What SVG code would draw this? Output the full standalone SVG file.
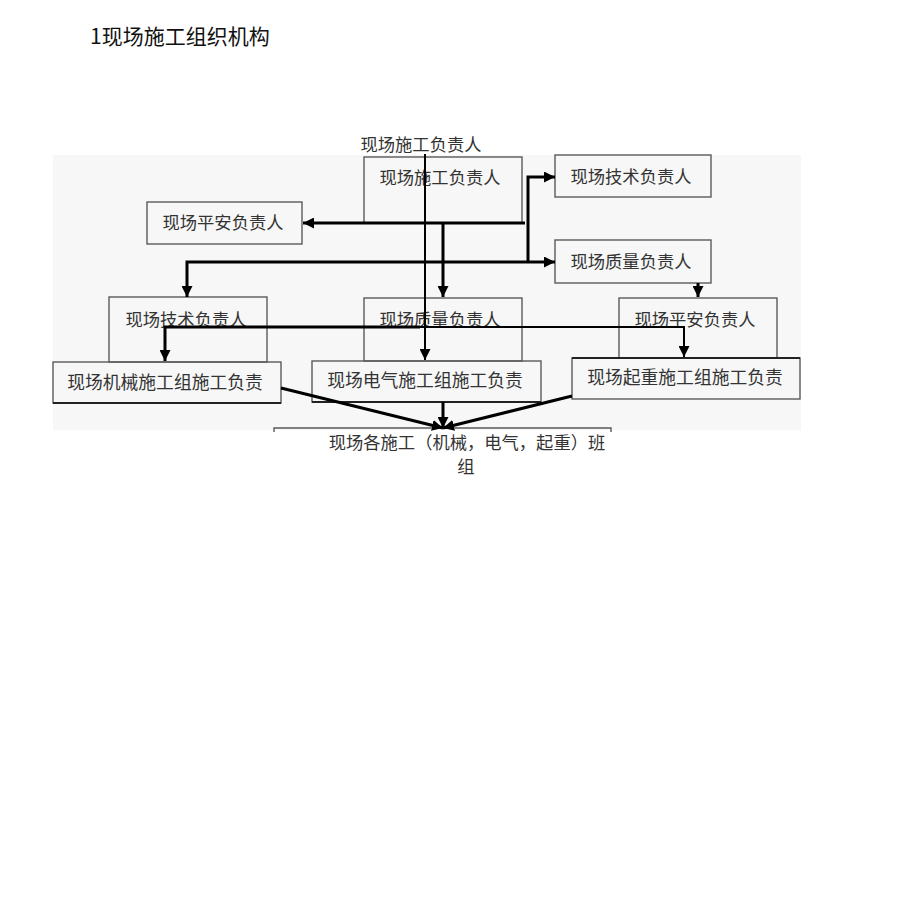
<svg xmlns="http://www.w3.org/2000/svg" width="920" height="920" viewBox="0 0 920 920">
<style>
.box{fill:none;stroke:#5a5a5a;stroke-width:1.4}
.t{font-family:"Noto Sans CJK SC","Noto Sans CJK JP",sans-serif;font-size:17.3px;fill:#333;text-anchor:middle}
.w{font-size:17.8px}
.c{fill:none;stroke:#000;stroke-width:3}
.c2{fill:none;stroke:#000;stroke-width:2}
</style>
<defs>
<marker id="ah" viewBox="0 0 10 10" refX="10" refY="5" markerWidth="11" markerHeight="11" markerUnits="userSpaceOnUse" orient="auto">
<path d="M0,0 L10,5 L0,10 z" fill="#000"/>
</marker>
</defs>
<rect x="0" y="0" width="920" height="920" fill="#fff"/>
<text x="90" y="44" style="font-family:'Noto Sans CJK SC',sans-serif;font-size:21px;fill:#111">1现场施工组织机构</text>
<rect x="53" y="155" width="748" height="275" fill="#f7f7f7"/>

<g id="lbl-top"><text class="t" x="421" y="151">现场施工负责人</text></g>
<g id="n-sg"><rect class="box" x="364" y="157" width="158" height="66"/><text class="t" x="440" y="184">现场施工负责人</text></g>
<g id="n-js1"><rect class="box" x="555" y="155" width="156" height="42"/><text class="t" x="631" y="183">现场技术负责人</text></g>
<g id="n-pa1"><rect class="box" x="147" y="202" width="155" height="42"/><text class="t" x="223" y="229">现场平安负责人</text></g>
<g id="n-zl1"><rect class="box" x="555" y="240" width="156" height="43"/><text class="t" x="631" y="268">现场质量负责人</text></g>
<g id="n-js2"><rect class="box" x="109" y="297" width="158" height="65"/><text class="t" x="186" y="326">现场技术负责人</text></g>
<g id="n-zl2"><rect class="box" x="364" y="298" width="158" height="63"/><text class="t" x="440" y="326">现场质量负责人</text></g>
<g id="n-pa2"><rect class="box" x="619" y="298" width="158" height="60"/><text class="t" x="695" y="326">现场平安负责人</text></g>
<g id="n-jx"><rect class="box" x="53" y="362" width="228" height="41"/><line x1="53" y1="403" x2="281" y2="403" stroke="#222" stroke-width="2"/><text class="t w" x="165" y="389">现场机械施工组施工负责</text></g>
<g id="n-dq"><rect class="box" x="312" y="361" width="229" height="41"/><line x1="312" y1="402" x2="541" y2="402" stroke="#222" stroke-width="2"/><text class="t w" x="425" y="387">现场电气施工组施工负责</text></g>
<g id="n-qz"><rect class="box" x="572" y="358" width="228" height="41"/><line x1="572" y1="358" x2="800" y2="358" stroke="#222" stroke-width="2"/><text class="t w" x="685" y="384">现场起重施工组施工负责</text></g>
<g id="n-bz"><path class="box" d="M274 432 V428 H611 V432"/><text class="t" x="467" y="449">现场各施工（机械，电气，起重）班</text><text class="t" x="466" y="473">组</text></g>

<g id="connectors">
<path class="c" d="M525 223 H303" marker-end="url(#ah)"/>
<path class="c" d="M528 262 V177 H555" marker-end="url(#ah)"/>
<path class="c" d="M528 262 H555" marker-end="url(#ah)"/>
<path class="c" d="M528 262 H187 V297" marker-end="url(#ah)"/>
<path class="c" d="M443 223 V297" marker-end="url(#ah)"/>
<path class="c2" d="M425 154 V360" marker-end="url(#ah)"/>
<path class="c" d="M698 283 V297" marker-end="url(#ah)"/>
<path class="c" d="M420 327 H165 V361" marker-end="url(#ah)"/>
<path class="c2" d="M420 327 H684 V357" marker-end="url(#ah)"/>
<path class="c" d="M281 388 L443 428" marker-end="url(#ah)"/>
<path class="c" d="M443 402 V428" marker-end="url(#ah)"/>
<path class="c" d="M572 396 L443 428" marker-end="url(#ah)"/>
</g>
</svg>
